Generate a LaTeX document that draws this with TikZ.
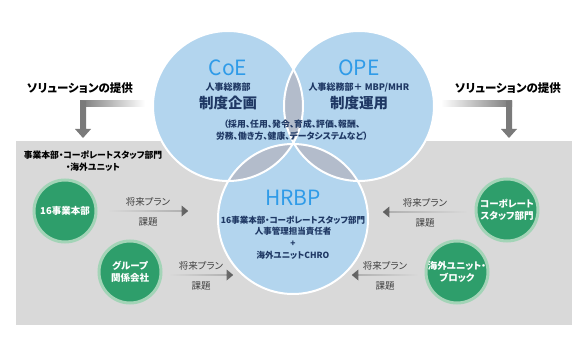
\documentclass[tikz,border=0pt]{standalone}
\usepackage{fontspec}
\setmainfont{Noto Sans CJK JP}[RawFeature=+palt]
\usetikzlibrary{shapes.arrows, positioning}

\definecolor{vennblue}{HTML}{B3D5EE}
\definecolor{lensgray}{HTML}{B3BCCB}
\definecolor{panelgray}{HTML}{D9D9D9}
\definecolor{navy}{HTML}{1F3864}
\definecolor{titleblue}{HTML}{2F9BE8}
\definecolor{unitgreen}{HTML}{2E9E6B}
\definecolor{unitring}{HTML}{A3D4B7}
\definecolor{arrdark}{HTML}{7A7A7A}
\definecolor{arrtip}{HTML}{5E5E5E}

\begin{document}
\begin{tikzpicture}[x=1pt, y=-1pt,
    venn/.style={circle, minimum size=150pt, inner sep=0pt, fill=vennblue},
    vennline/.style={draw=white, line width=2pt},
    title/.style={font=\fontsize{21}{21}\selectfont, text=titleblue},
    dept/.style={font=\bfseries\fontsize{9}{11}\selectfont, text=navy},
    role/.style={font=\bfseries\fontsize{14.5}{16}\selectfont, text=navy},
    note/.style={font=\bfseries\fontsize{8.8}{11.7}\selectfont, text=navy, align=center},
    unit/.style={circle, minimum size=62pt, inner sep=0pt, fill=unitgreen,
      draw=unitring, line width=3pt, text=white, align=center,
      font=\bfseries\fontsize{9.5}{12}\selectfont},
    plan/.style={font=\fontsize{9.5}{10}\selectfont, text=black!75},
    head/.style={font=\bfseries\fontsize{11.5}{12}\selectfont},
    planarrow/.style={single arrow, minimum width=11pt, inner sep=0pt,
      single arrow head extend=3pt, single arrow tip angle=80, draw=none}]
  \useasboundingbox (0,0) rectangle (587,353);
  % background panel
  \fill[panelgray] (16,141) rectangle (572,325);

  % three circles
  \node[venn] (coe) at (228,106) {};
  \node[venn] (ope) at (359,106) {};
  \node[venn] (hrbp) at (293,219) {};
  \begin{scope}
    \clip (coe.center) circle (75pt);
    \fill[lensgray] (ope.center) circle (75pt);
    \fill[lensgray] (hrbp.center) circle (75pt);
  \end{scope}
  \begin{scope}
    \clip (ope.center) circle (75pt);
    \fill[lensgray] (hrbp.center) circle (75pt);
  \end{scope}
  \foreach \c in {coe, ope, hrbp}
    \draw[vennline] (\c.center) circle (75pt);

  % circle texts
  \node[title] (coet) at (228,68) {CoE};
  \node[dept] (coed) at (228,87) {人事総務部};
  \node[role] (coer) at (228,103) {制度企画};
  \node[title] (opet) at (359,68) {OPE};
  \node[dept] (oped) at (359,87) {人事総務部＋ MBP/MHR};
  \node[role] (oper) at (359,103) {制度運用};
  \node[note] (scope) at (292,130) {（採用、任用、発令、育成、評価、報酬、\\労務、働き方、健康、データシステムなど）};
  \node[title] (hrbpt) at (293,198) {HRBP};
  \node[note, font=\bfseries\fontsize{8.5}{11.7}\selectfont] (hrbpn) at (293,237.5)
    {16事業本部・コーポレートスタッフ部門\\人事管理担当責任者\\+\\海外ユニットCHRO};

  % solution arrows
  \node[head] (solL) at (80,88) {ソリューションの提供};
  \node[head] (solR) at (508,88) {ソリューションの提供};
  \shade[left color=arrdark, right color=white] (80,101) rectangle (145,107);
  \fill[arrdark] (80,101) -- (86,101) -- (86,129) -- (91,129) -- (83,138)
    -- (75,129) -- (80,129) -- cycle;
  \shade[left color=white, right color=arrdark] (441,101) rectangle (512,107);
  \fill[arrdark] (506,101) -- (512,101) -- (512,129) -- (517,129) -- (509,138)
    -- (501,129) -- (506,129) -- cycle;

  % units
  \node[font=\bfseries\fontsize{8.8}{12}\selectfont, align=center] (grp) at (93,161)
    {事業本部・コーポレートスタッフ部門\\・海外ユニット};
  \node[unit] (u16) at (65,211) {16事業本部};
  \node[unit] (ugrp) at (130,272) {グループ\\関係会社};
  \node[unit] (ucorp) at (507,210) {コーポレート\\スタッフ部門};
  \node[unit] (uovs) at (457,272) {海外ユニット・\\ブロック};

  % plan arrows
  \node[planarrow, minimum height=80pt, left color=panelgray, right color=arrtip]
    (p1) at (148,211) {};
  \node[planarrow, minimum height=64pt, left color=panelgray, right color=arrtip]
    (p2) at (201,275) {};
  \node[planarrow, minimum height=84pt, shape border rotate=180,
    left color=arrtip, right color=panelgray] (p3) at (425,212) {};
  \node[planarrow, minimum height=66pt, shape border rotate=180,
    left color=arrtip, right color=panelgray] (p4) at (385,275) {};
  \foreach \a in {p1, p2, p3, p4} {
    \node[plan, above=1pt of \a] (\a f) {将来プラン};
    \node[plan, below=3pt of \a] (\a k) {課題};
  }
\end{tikzpicture}
\end{document}
